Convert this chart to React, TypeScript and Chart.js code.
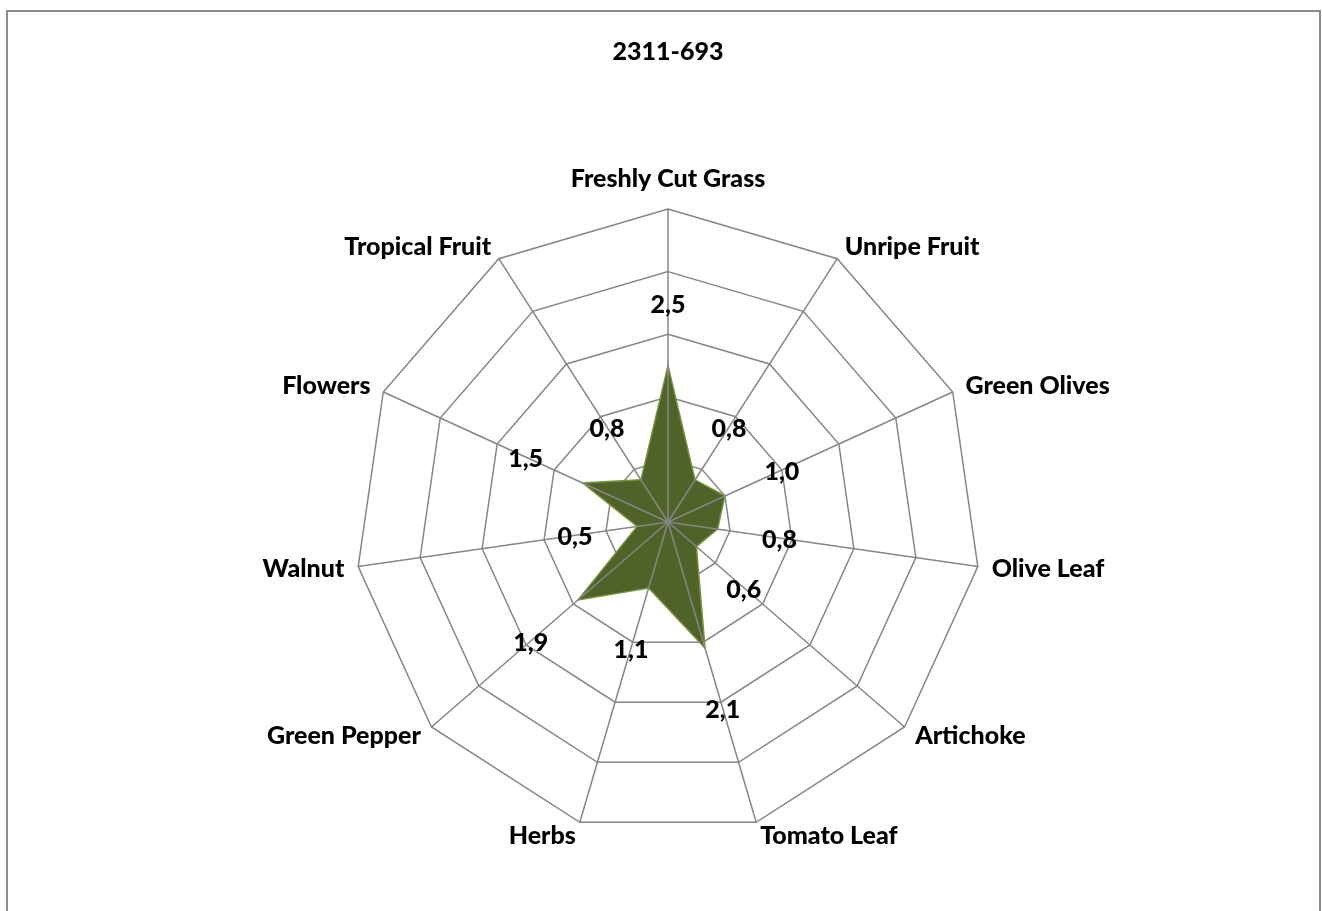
import React, { useEffect, useRef } from "react";
import { Chart, registerables } from "chart.js";

Chart.register(...registerables);

const TITLE = "2311-693";
const CATEGORIES = [
  "Freshly Cut Grass",
  "Unripe Fruit",
  "Green Olives",
  "Olive Leaf",
  "Artichoke",
  "Tomato Leaf",
  "Herbs",
  "Green Pepper",
  "Walnut",
  "Flowers",
  "Tropical Fruit",
];
const VALUES = [2.5, 0.8, 1.0, 0.8, 0.6, 2.1, 1.1, 1.9, 0.5, 1.5, 0.8];
const SCALE_MIN = 0;
const SCALE_MAX = 5;
const SCALE_STEP = 1;

const FONT_FAMILY = "Lato, 'Open Sans', sans-serif";
const FONT_SIZE = 25;
const FONT_WEIGHT = "900";
const GRID_COLOR = "#868686";
const FILL_COLOR = "#4F6228";
const LINE_COLOR = "#77933C";
const LABEL_OFFSET = 1; // data labels sit one step outward from their point
const CAT_PAD = 14;

const fmt = (v: number) => v.toFixed(1).replace(".", ",");

const overlayPlugin = {
  id: "overlay",
  afterDatasetsDraw(chart: any) {
    const scale = chart.scales.r;
    const ctx = chart.ctx as CanvasRenderingContext2D;
    const labels = chart.data.labels as string[];
    const data = chart.data.datasets[0].data as number[];
    const n = labels.length;
    ctx.save();
    // spokes over the filled area
    ctx.strokeStyle = GRID_COLOR;
    ctx.lineWidth = 1.5;
    for (let i = 0; i < n; i++) {
      const p = scale.getPointPosition(i, scale.drawingArea);
      ctx.beginPath();
      ctx.moveTo(scale.xCenter, scale.yCenter);
      ctx.lineTo(p.x, p.y);
      ctx.stroke();
    }
    ctx.fillStyle = "#000";
    ctx.font = `${FONT_WEIGHT} ${FONT_SIZE}px ${FONT_FAMILY}`;
    // data labels
    ctx.textAlign = "center";
    ctx.textBaseline = "middle";
    for (let i = 0; i < n; i++) {
      const p = scale.getPointPositionForValue(i, data[i] + LABEL_OFFSET);
      ctx.fillText(fmt(data[i]), p.x, p.y + 2);
    }
    // category labels
    for (let i = 0; i < n; i++) {
      const deg = Math.round((scale.getIndexAngle(i) * 180) / Math.PI) % 360;
      const p = scale.getPointPosition(i, scale.drawingArea + CAT_PAD);
      let align: CanvasTextAlign = "center";
      let y = p.y;
      if (deg === 0) y = p.y - 16;
      else if (deg === 180) y = p.y + 16;
      else align = deg < 180 ? "left" : "right";
      ctx.textAlign = align;
      ctx.fillText(labels[i], p.x, y);
    }
    ctx.restore();
  },
};

export default function App() {
  const canvasRef = useRef<HTMLCanvasElement | null>(null);

  useEffect(() => {
    if (!canvasRef.current) return;
    const chart = new Chart(canvasRef.current, {
      type: "radar",
      data: {
        labels: CATEGORIES,
        datasets: [
          {
            label: TITLE,
            data: VALUES,
            backgroundColor: FILL_COLOR,
            borderColor: LINE_COLOR,
            borderWidth: 1.5,
            fill: true,
            pointRadius: 0,
            pointHoverRadius: 0,
          },
        ],
      },
      options: {
        responsive: false,
        animation: false,
        layout: { padding: { top: 5, left: 310, right: 301, bottom: 92 } },
        plugins: {
          legend: { display: false },
          tooltip: { enabled: false },
          title: {
            display: true,
            text: TITLE,
            color: "#000",
            font: { family: FONT_FAMILY, size: FONT_SIZE, weight: FONT_WEIGHT, lineHeight: 1.2 },
            padding: { top: 20, bottom: 142 },
          },
        },
        scales: {
          r: {
            min: SCALE_MIN,
            max: SCALE_MAX,
            ticks: { stepSize: SCALE_STEP, display: false },
            grid: { color: GRID_COLOR, lineWidth: 1.5, circular: false },
            angleLines: { display: false },
            pointLabels: { display: false },
          },
        },
      },
      plugins: [overlayPlugin],
    });
    return () => chart.destroy();
  }, []);

  return (
    <div
      style={{
        position: "absolute",
        left: 6,
        top: 10,
        width: 1315,
        height: 930,
        border: "2px solid #8c8c8c",
        boxSizing: "border-box",
        background: "#fff",
      }}
    >
      <canvas ref={canvasRef} width={1311} height={916} style={{ display: "block", width: 1311, height: 916 }} />
    </div>
  );
}
